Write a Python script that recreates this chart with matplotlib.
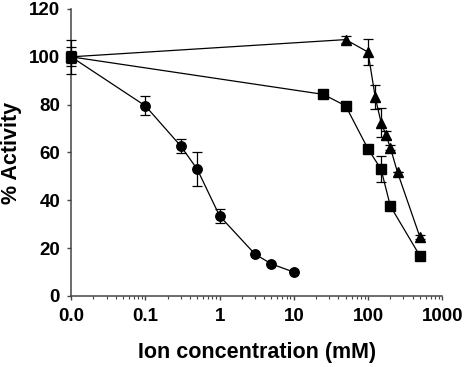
import numpy as np
import matplotlib.pyplot as plt
from matplotlib.ticker import FixedLocator, LogLocator, NullFormatter

# concentration 0 is drawn at the left edge of the log axis (labelled 0.0)
circle_conc = [0, 0.1, 0.3, 0.5, 1, 3, 5, 10]
circle_act = [100, 79.5, 62.7, 53, 33.5, 17.5, 13.4, 10]
circle_err = [4, 4, 3, 7, 3, 0, 0, 0]

square_conc = [0, 25, 50, 100, 150, 200, 500]
square_act = [100, 84.3, 79.5, 61.5, 53, 37.6, 16.8]
square_err = [2.5, 1, 1, 1, 5.5, 0, 0]

triangle_conc = [0, 50, 100, 125, 150, 175, 200, 250, 500]
triangle_act = [100, 107.2, 102, 83.2, 72.5, 67.3, 62, 51.7, 24.7]
triangle_err = [7, 1.5, 5.4, 5.2, 6, 1.7, 1, 0, 1]

x_ticks = [0.01, 0.1, 1, 10, 100, 1000]
x_tick_labels = ['0.0', '0.1', '1', '10', '100', '1000']
y_ticks = [0, 20, 40, 60, 80, 100, 120]

plt.rcParams['font.family'] = ['Liberation Sans', 'DejaVu Sans']
plt.rcParams['font.weight'] = 'bold'

fig = plt.figure(figsize=(4.65, 3.67), dpi=100)
ax = fig.add_axes([0.153, 0.1935, 0.798, 0.782])


def zero_to_edge(xs):
    xs = np.array(xs, dtype=float)
    xs[xs == 0] = x_ticks[0]
    return xs


series = [
    (circle_conc, circle_act, circle_err, 'o', 6.8),
    (square_conc, square_act, square_err, 's', 7.3),
    (triangle_conc, triangle_act, triangle_err, '^', 7.8),
]
for conc, act, err, marker, ms in series:
    ax.errorbar(zero_to_edge(conc), act, yerr=err, fmt='-', marker=marker,
                color='black', ms=ms, lw=0.9, elinewidth=0.9,
                capsize=3.5, capthick=0.9, clip_on=False, zorder=3)

ax.set_xscale('log')
ax.set_xlim(0.01, 1000)
ax.set_ylim(0, 120)
ax.xaxis.set_major_locator(FixedLocator(x_ticks))
ax.set_xticklabels(x_tick_labels)
ax.xaxis.set_minor_locator(LogLocator(base=10, subs=np.arange(2, 10)))
ax.xaxis.set_minor_formatter(NullFormatter())
ax.set_yticks(y_ticks)

for side in ['top', 'right']:
    ax.spines[side].set_visible(False)
for side in ['left', 'bottom']:
    ax.spines[side].set_color('#444444')
    ax.spines[side].set_linewidth(1.1)

ax.tick_params(axis='both', which='major', direction='out', length=3,
               width=1, color='#444444', labelsize=13.5)
ax.tick_params(axis='x', which='major', pad=6)
ax.tick_params(axis='y', which='major', pad=5)
ax.tick_params(axis='x', which='minor', direction='out', length=2.5,
               width=0.8, color='#444444')

ax.set_xlabel('Ion concentration (mM)', fontsize=15.5, fontweight='bold',
              labelpad=12)
ax.set_ylabel('% Activity', fontsize=15.5, fontweight='bold', labelpad=5)

fig.savefig('out.png', dpi=100)
